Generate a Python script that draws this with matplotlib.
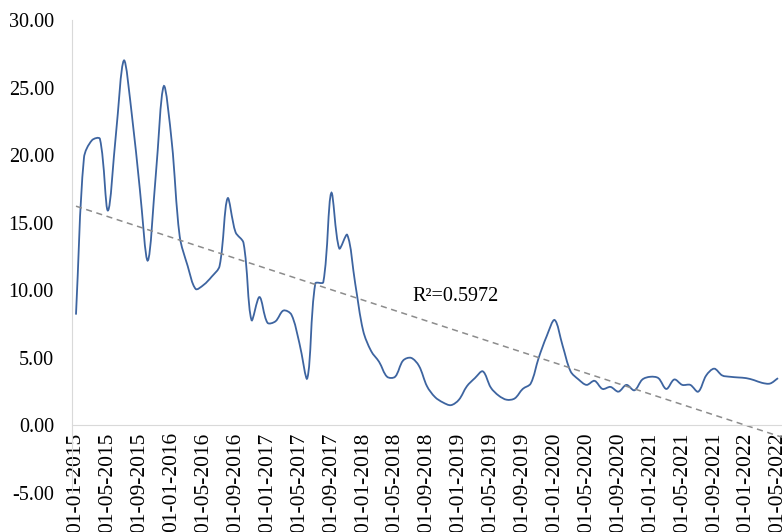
import numpy as np
import matplotlib.pyplot as plt
from matplotlib.path import Path
from matplotlib.patches import PathPatch

# monthly values, 01-01-2015 .. 01-05-2022
values = [8.2, 19.8, 21.1, 21.2, 15.9, 21.5, 27.0, 23.0, 17.5, 12.2,
          18.5, 25.1, 21.0, 14.0, 11.8, 10.1, 10.4, 11.0, 11.8, 16.8,
          14.3, 13.5, 7.8, 9.5, 7.6, 7.7, 8.5, 8.2, 6.1, 3.5,
          10.5, 10.6, 17.2, 13.1, 14.1, 10.5, 7.0, 5.5, 4.7, 3.6,
          3.6, 4.8, 5.0, 4.4, 2.9, 2.1, 1.7, 1.5, 1.9, 2.9,
          3.5, 4.0, 2.8, 2.2, 1.9, 2.0, 2.7, 3.1, 5.0, 6.6,
          7.8, 5.9, 4.0, 3.4, 3.0, 3.3, 2.7, 2.85, 2.5, 3.0,
          2.6, 3.4, 3.6, 3.5, 2.7, 3.4, 3.0, 3.0, 2.5, 3.7,
          4.2, 3.7, 3.6, 3.55, 3.5, 3.35, 3.15, 3.1, 3.5]
start_year, start_month = 2015, 1
labels = []
for i in range(len(values)):
    m = start_month - 1 + i
    labels.append('01-%02d-%d' % (m % 12 + 1, start_year + m // 12))
r2_text = 'R\u00b2=0.5972'

plt.rcParams['font.family'] = ['Liberation Serif', 'DejaVu Serif']

x = np.arange(len(values))
y = np.array(values)
n = len(x)

fig = plt.figure(figsize=(7.82, 5.32), dpi=100)
ax = fig.add_axes([72 / 782, 1 - 493 / 532, 1 - 72 / 782, (493 - 20) / 532])
ax.set_xlim(-0.5, n - 0.5)
ax.set_ylim(-5, 30)

# smoothed line as cubic Bezier, tangents weighted by segment length on screen
pts = np.column_stack([x, y]).astype(float)
scr = ax.transData.transform(pts)
seg = np.hypot(*np.diff(scr, axis=0).T)
verts = [tuple(pts[0])]
codes = [Path.MOVETO]
for i in range(n - 1):
    a = max(i - 1, 0)
    d = min(i + 2, n - 1)
    d_prev = seg[i - 1] if i > 0 else 0.0
    d_next = seg[i + 1] if i + 2 < n else 0.0
    c1 = pts[i] + (pts[i + 1] - pts[a]) * seg[i] / (3 * (d_prev + seg[i]))
    c2 = pts[i + 1] - (pts[d] - pts[i]) * seg[i] / (3 * (seg[i] + d_next))
    verts += [tuple(c1), tuple(c2), tuple(pts[i + 1])]
    codes += [Path.CURVE4] * 3
ax.add_patch(PathPatch(Path(verts, codes), facecolor='none',
                       edgecolor='#3D64A0', lw=1.3))

# linear trendline
k, b = np.polyfit(x, y, 1)
ax.plot([x[0], x[-1] + 0.5], [b, k * (x[-1] + 0.5) + b], ls=(0, (4, 3)),
        color='#8C8C8C', lw=1.1)

ax.text(42.2, 9.24, r2_text, fontsize=14.5, ha='left', va='baseline')

ax.set_yticks(np.arange(-5, 31, 5))
ax.set_yticklabels(['%.2f' % v for v in np.arange(-5, 31, 5)])
ax.set_xticks(x[::4])
ax.set_xticklabels(labels[::4])
ax.tick_params(axis='x', labelrotation=90)
for t in ax.get_xticklabels():
    t.set_va('top')
    t.set_ha('center')

for s in ['top', 'right']:
    ax.spines[s].set_visible(False)
ax.spines['bottom'].set_position(('data', 0))
ax.spines['bottom'].set_color('#D9D9D9')
ax.spines['left'].set_color('#D9D9D9')
ax.tick_params(axis='y', length=0, pad=13, labelsize=14.5)
ax.tick_params(axis='x', length=0, pad=5, labelsize=15.5)

fig.savefig('out.png', dpi=100)
